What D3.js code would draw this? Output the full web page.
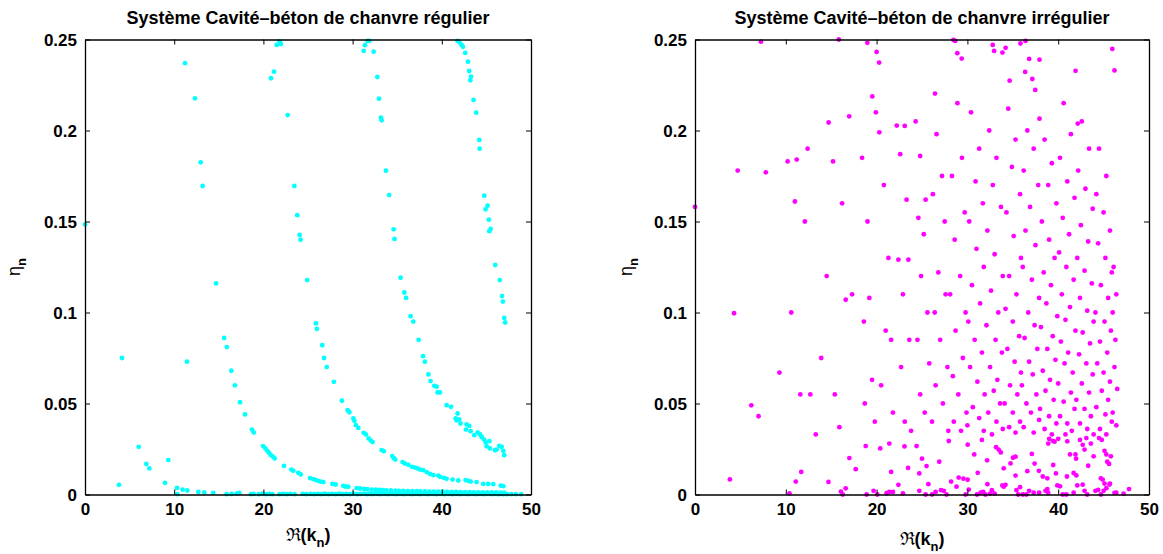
<!DOCTYPE html>
<html><head><meta charset="utf-8">
<script src="https://cdnjs.cloudflare.com/ajax/libs/d3/7.8.5/d3.min.js"></script>
<style>
body{margin:0;background:#fff}
svg text{font-family:"Liberation Sans",Arial,Helvetica,sans-serif;font-weight:bold;fill:#000}
</style></head>
<body><svg id="chart" width="1163" height="554"></svg>
<script>
// ---- tick definitions ----
const xTickValues = [0, 10, 20, 30, 40, 50];
const xTickLabels = ["0", "10", "20", "30", "40", "50"];
const yTickValues = [0, 0.05, 0.1, 0.15, 0.2, 0.25];
const yTickLabels = ["0", "0.05", "0.1", "0.15", "0.2", "0.25"];
const titles = ["Système Cavité\u2013béton de chanvre régulier", "Système Cavité\u2013béton de chanvre irrégulier"];

// ---- regular system (cyan): [Re(k_n), eta_n] ----
const regIsolated = [[0,0.1484],[3.81,0.0053],[4.15,0.075],[6.02,0.0262],[6.87,0.0168],[7.21,0.0143],[8.97,0.0064],[9.34,0.0189],[11.43,0.073]];
const regBranch1 = [[11.21,0.237],[12.33,0.2177],[12.97,0.1825],[13.19,0.1695],[14.7,0.116],[15.6,0.086],[15.9,0.081],[16.4,0.068],[16.8,0.06],[17.38,0.0507],[17.94,0.044],[18.72,0.0357],[18.91,0.0341],[19.96,0.0266],[20.22,0.0253],[20.44,0.024],[20.63,0.0229],[20.8,0.0218],[21.04,0.0209],[21.26,0.0198],[22.31,0.0157],[23.13,0.0137],[23.36,0.013],[23.92,0.0119],[24.19,0.011],[25.22,0.009],[25.6,0.0084],[25.9,0.0079],[26.16,0.0075],[26.42,0.0071],[26.72,0.0068],[27.73,0.0058],[28.1,0.0055],[28.96,0.0047],[29.2,0.0044],[29.52,0.0042],[30.45,0.0035],[30.83,0.0033],[31.28,0.0031],[31.65,0.0029],[32.14,0.0027],[32.6,0.0026],[33.0,0.0025],[33.4,0.0024],[33.8,0.0023],[34.3,0.0022],[34.8,0.0021],[35.2,0.002],[35.7,0.002],[36.2,0.0019],[36.7,0.0018],[37.2,0.0018],[37.6,0.0017],[38.1,0.0017],[38.6,0.0016],[39.1,0.0016],[39.6,0.0015],[40.1,0.0015],[40.6,0.0014],[41.1,0.0014],[41.6,0.0014],[42.1,0.0013],[42.6,0.0013],[43.1,0.0013],[43.6,0.0012],[44.1,0.0012],[44.6,0.0012],[45.1,0.0011],[45.6,0.0011],[46.1,0.0011],[46.6,0.001],[47.0,0.001]];
const regBranch2 = [[20.85,0.2287],[21.19,0.2323],[21.5,0.247],[21.8,0.249],[21.97,0.2475],[22.72,0.2085],[23.47,0.1695],[23.8,0.1535],[24.06,0.1426],[24.17,0.14],[24.9,0.1178],[25.9,0.094],[26.0,0.091],[26.6,0.082],[26.8,0.075],[27.1,0.07],[27.9,0.0619],[28.8,0.0515],[29.45,0.0463],[29.63,0.0452],[30.08,0.0418],[30.2,0.0405],[30.37,0.0381],[30.64,0.0366],[31.24,0.0339],[31.49,0.033],[31.79,0.0308],[32.02,0.0297],[32.24,0.0288],[33.25,0.0244],[33.5,0.0238],[34.44,0.0211],[34.6,0.02],[34.78,0.0192],[35.6,0.0178],[35.87,0.017],[36.25,0.0163],[36.66,0.0152],[37.0,0.0148],[37.29,0.0143],[37.56,0.0137],[37.9,0.0134],[38.3,0.0123],[38.68,0.0113],[39.05,0.0106],[39.6,0.0104],[39.8,0.0097],[40.24,0.0091],[40.54,0.0086],[41.21,0.0082],[41.85,0.0077],[42.67,0.0079],[42.97,0.0075],[43.24,0.0071],[43.9,0.0068],[44.65,0.0058],[45.2,0.0058],[45.77,0.0057],[46.6,0.0049],[46.9,0.0046]];
const regBranch3 = [[31.24,0.2437],[31.39,0.2469],[31.69,0.2492],[31.87,0.2492],[32.36,0.2433],[32.77,0.2294],[32.96,0.2175],[33.18,0.207],[33.26,0.2056],[33.74,0.1779],[34.1,0.1645],[34.6,0.1457],[34.7,0.1404],[35.38,0.1191],[35.8,0.111],[36.0,0.108],[36.5,0.098],[36.8,0.095],[37.4,0.085],[37.9,0.076],[38.1,0.073],[38.5,0.066],[38.74,0.0623],[39.16,0.0597],[39.42,0.0592],[39.53,0.0561],[39.8,0.0561],[40.54,0.0491],[41.03,0.0482],[41.77,0.0445],[41.55,0.0418],[41.95,0.0412],[41.66,0.0408],[42.1,0.039],[42.78,0.0385],[43.08,0.0377],[42.71,0.0357],[43.23,0.0348],[43.64,0.0326],[44.02,0.0341],[44.28,0.033],[44.47,0.0316],[44.73,0.0302],[44.92,0.0286],[45.33,0.0293],[45.03,0.0265],[45.4,0.0253],[45.96,0.0243],[46.15,0.0247],[46.44,0.0267],[46.71,0.0262],[46.9,0.024],[47.0,0.0216]];
const regBranch4 = [[41.77,0.2492],[42.0,0.2483],[42.22,0.247],[42.37,0.246],[42.63,0.2426],[42.93,0.2378],[43.08,0.2327],[43.27,0.2296],[43.2,0.2276],[43.56,0.2168],[43.86,0.2098],[44.2,0.1948],[44.24,0.19],[44.76,0.1642],[45.13,0.1587],[44.9,0.1567],[45.27,0.151],[45.47,0.1459],[45.32,0.1447],[45.99,0.1261],[46.5,0.1178],[46.75,0.109],[46.85,0.106],[47.0,0.097],[47.1,0.0945]];
const regBottom = [[10.31,0.0036],[10.35,0.0002],[10.94,0.0027],[11.47,0.0022],[12.7,0.0014],[13.37,0.0011],[14.38,0.0009],[15.88,0.0002],[16.44,0.0003],[17.0,0.0005],[17.3,0.0009],[18.6,0.0002],[18.9,0.0003],[19.5,0.0002],[19.9,0.0004],[20.3,0.0002],[20.7,0.0003],[21.0,0.0002],[21.8,0.0002],[22.2,0.0003],[22.6,0.0002],[23.0,0.0003],[23.5,0.0002],[24.4,0.0003],[24.8,0.0002],[25.3,0.0003],[25.7,0.0002],[26.1,0.0003],[26.5,0.0002],[26.9,0.0004],[27.3,0.0002],[27.7,0.0003],[28.1,0.0002],[28.5,0.0004],[28.9,0.0002],[29.3,0.0003],[29.7,0.0002],[30.1,0.0004],[30.5,0.0002],[30.9,0.0003],[31.3,0.0005],[31.6,0.0002],[31.9,0.0004],[32.2,0.0002],[32.5,0.0006],[32.8,0.0003],[33.1,0.0002],[33.4,0.0005],[33.7,0.0003],[34.0,0.0002],[34.3,0.0006],[34.6,0.0003],[34.9,0.0002],[35.2,0.0005],[35.5,0.0003],[35.8,0.0002],[36.1,0.0006],[36.4,0.0003],[36.7,0.0002],[37.0,0.0005],[37.3,0.0003],[37.6,0.0002],[37.9,0.0006],[38.2,0.0003],[38.5,0.0002],[38.8,0.0005],[39.1,0.0003],[39.4,0.0002],[39.7,0.0006],[40.0,0.0003],[40.3,0.0002],[40.6,0.0005],[40.9,0.0003],[41.2,0.0002],[41.5,0.0006],[41.8,0.0003],[42.1,0.0002],[42.4,0.0005],[42.7,0.0003],[43.0,0.0002],[43.3,0.0006],[43.6,0.0003],[43.9,0.0002],[44.2,0.0005],[44.5,0.0003],[44.8,0.0002],[45.1,0.0005],[45.4,0.0003],[45.7,0.0002],[46.0,0.0004],[46.3,0.0002],[46.6,0.0003],[46.9,0.0002],[47.3,0.0002],[47.8,0.0002],[48.3,0.0002],[48.9,0.0002]];

// ---- irregular system (magenta): [Re(k_n), eta_n] ----
const irrTop = [[7.26,0.2488],[15.84,0.25],[18.98,0.2482],[20.0,0.2432],[20.28,0.2373],[19.53,0.2187],[19.92,0.21],[14.72,0.2044],[16.98,0.2078],[22.22,0.2027],[23.1,0.2025],[26.43,0.2203],[28.46,0.2498],[28.66,0.2492],[28.89,0.2425],[29.37,0.2395],[32.79,0.247],[32.94,0.2437],[33.86,0.2428],[34.21,0.2454],[34.65,0.2274],[35.84,0.2478],[36.4,0.2492],[36.8,0.2393],[37.94,0.2389],[36.36,0.2322],[37.15,0.2283],[37.47,0.2223],[37.94,0.2065],[41.91,0.2328],[42.15,0.2038],[45.96,0.2448],[46.2,0.233]];
const irrLeft = [[0,0.158],[4.7,0.178],[7.8,0.177],[4.3,0.0996],[6.2,0.049],[7.0,0.043],[9.3,0.067],[10.2,0.183],[11.2,0.184],[10.6,0.1],[11.0,0.161],[11.6,0.055],[12.4,0.19],[12.1,0.15],[13.3,0.033],[13.9,0.075],[12.7,0.055],[15.2,0.183],[14.5,0.12],[15.4,0.055],[15.9,0.037],[16.2,0.16],[17.3,0.11],[16.6,0.107],[17.0,0.02],[18.4,0.185],[19.0,0.15],[18.6,0.095],[19.2,0.108],[19.5,0.063],[18.7,0.05],[19.8,0.04]];
const irrMid = [[20.3,0.199],[20.8,0.17],[21.3,0.13],[21.0,0.09],[21.6,0.085],[20.5,0.06],[21.8,0.045],[22.6,0.187],[23.3,0.162],[22.4,0.129],[23.5,0.129],[22.9,0.11],[23.6,0.085],[22.7,0.07],[23.1,0.04],[23.8,0.035],[24.3,0.205],[24.8,0.186],[25.4,0.162],[24.6,0.152],[25.2,0.143],[24.9,0.12],[25.6,0.1],[24.5,0.085],[25.8,0.072],[24.8,0.055],[25.3,0.045],[26.6,0.198],[27.2,0.175],[26.2,0.165],[27.5,0.15],[26.8,0.122],[27.6,0.11],[26.4,0.1],[27.0,0.085],[27.8,0.07],[26.5,0.06],[27.3,0.05],[26.1,0.04],[27.9,0.035],[28.9,0.215],[29.4,0.185],[28.3,0.175],[29.7,0.155],[28.6,0.14],[29.2,0.12],[28.1,0.11],[29.8,0.1],[28.7,0.09],[29.5,0.075],[28.4,0.065],[29.0,0.055],[29.9,0.045],[28.5,0.04],[29.3,0.035]];
const irrRight = [[30.4,0.21],[31.3,0.19],[30.9,0.172],[31.7,0.16],[30.2,0.15],[31.0,0.135],[31.8,0.125],[30.5,0.115],[31.4,0.105],[30.1,0.095],[30.8,0.085],[31.6,0.078],[30.3,0.07],[31.1,0.062],[31.9,0.055],[30.6,0.048],[31.3,0.042],[30.0,0.038],[31.8,0.035],[32.4,0.2],[33.2,0.185],[32.8,0.17],[33.7,0.158],[32.2,0.145],[33.0,0.132],[33.9,0.12],[32.6,0.112],[33.4,0.1],[32.1,0.093],[33.1,0.085],[33.8,0.078],[32.5,0.07],[33.3,0.063],[32.9,0.057],[33.6,0.05],[32.3,0.045],[33.2,0.04],[33.9,0.036],[32.7,0.033],[34.5,0.212],[35.3,0.195],[34.9,0.18],[35.8,0.165],[34.3,0.155],[35.1,0.142],[35.9,0.13],[34.6,0.12],[35.4,0.11],[34.2,0.102],[35.0,0.095],[35.7,0.087],[34.4,0.08],[35.2,0.073],[35.9,0.067],[34.7,0.06],[35.5,0.055],[34.1,0.05],[35.0,0.045],[35.8,0.04],[34.6,0.037],[35.3,0.034],[36.6,0.2],[37.3,0.19],[36.2,0.178],[37.8,0.17],[36.9,0.158],[36.4,0.145],[37.5,0.137],[36.1,0.125],[37.1,0.118],[37.9,0.108],[36.7,0.1],[37.4,0.093],[36.3,0.086],[37.7,0.08],[36.8,0.073],[37.2,0.066],[36.0,0.06],[37.6,0.055],[36.5,0.05],[37.0,0.045],[37.9,0.041],[36.2,0.037],[37.3,0.034],[38.5,0.195],[39.3,0.182],[38.9,0.17],[39.8,0.16],[38.2,0.15],[39.0,0.14],[39.6,0.13],[38.4,0.122],[39.2,0.115],[38.7,0.105],[39.9,0.098],[38.1,0.092],[39.4,0.087],[38.8,0.08],[39.7,0.074],[38.3,0.068],[39.1,0.063],[38.6,0.057],[39.5,0.052],[38.0,0.047],[39.0,0.043],[39.8,0.039],[38.5,0.036],[39.3,0.033]];
const irrEdge = [[40.6,0.215],[41.4,0.198],[40.2,0.185],[41.0,0.172],[41.8,0.163],[40.5,0.152],[41.2,0.143],[40.1,0.133],[40.9,0.125],[41.7,0.118],[40.4,0.11],[41.3,0.103],[40.8,0.096],[41.9,0.09],[40.3,0.084],[41.1,0.078],[40.7,0.072],[41.6,0.067],[40.0,0.061],[41.4,0.056],[40.6,0.051],[41.8,0.047],[40.2,0.043],[41.0,0.039],[41.5,0.035],[40.8,0.033],[42.6,0.205],[43.4,0.19],[42.2,0.178],[43.0,0.168],[43.8,0.157],[42.5,0.148],[43.3,0.139],[42.1,0.13],[42.9,0.123],[43.7,0.116],[42.4,0.108],[43.2,0.101],[43.9,0.095],[42.7,0.089],[43.5,0.083],[42.3,0.077],[43.1,0.072],[43.8,0.066],[42.6,0.061],[43.4,0.056],[42.0,0.052],[42.9,0.047],[43.6,0.043],[42.4,0.039],[43.2,0.036],[43.9,0.033],[44.5,0.19],[45.3,0.175],[44.2,0.165],[45.0,0.155],[45.7,0.145],[44.4,0.138],[45.2,0.13],[45.9,0.122],[44.7,0.115],[45.5,0.108],[44.1,0.1],[45.1,0.095],[45.8,0.09],[44.6,0.084],[45.4,0.078],[44.3,0.072],[45.0,0.067],[45.7,0.062],[44.8,0.057],[45.5,0.052],[44.2,0.048],[45.2,0.044],[45.9,0.04],[44.6,0.036],[45.3,0.033],[46.1,0.125],[46.4,0.11],[46.0,0.1],[46.3,0.085],[46.2,0.07],[46.5,0.058],[46.0,0.045],[46.4,0.038]];
const irrLow = [[3.84,0.0083],[10.4,0.0006],[11.1,0.0071],[11.7,0.0124],[14.7,0.0069],[16.07,0.0016],[16.27,0],[16.6,0.0034],[17.7,0.0139],[18.8,0.0266],[18.9,0],[19.67,0.002],[20.07,0],[20.4,0.0253],[21.1,0.0007],[21.4,0.0014],[21.8,0.0014],[21.4,0.028],[21.6,0.0124],[22.4,0.0053],[22.9,0.0006],[23.07,0.0264],[23.47,0.0146],[24.4,0.0266],[24.7,0.002],[24.7,0.0116],[25.0,0.0197],[25.4,0],[25.5,0.0156],[25.7,0.0057],[26.1,0],[26.5,0.0014],[26.9,0.018],[27.1,0.0024],[27.4,0.002],[27.7,0],[27.95,0.0294],[28.2,0.0071],[28.8,0.0043],[29.04,0.0093],[29.56,0.0087],[29.8,0],[30.03,0.0274],[30.03,0.0081],[30.15,0.0027],[30.75,0.022],[31.06,0],[31.46,0.001],[31.74,0.0014],[31.98,0],[31.14,0.0119],[31.6,0.03],[32.17,0.0188],[32.2,0.0057],[32.5,0.0005],[32.7,0.0024],[33.0,0.0005],[33.16,0.026],[33.44,0.0247],[33.68,0.0231],[34.0,0.0144],[33.85,0.005],[34.0,0.0043],[34.2,0.0053],[34.75,0.0171],[35.02,0.0202],[35.3,0.0208],[35.3,0.0104],[35.4,0.0024],[35.6,0],[35.8,0.004],[36.1,0],[36.5,0],[36.8,0.002],[36.6,0.0128],[37.1,0.0223],[37.4,0.017],[37.3,0.001],[37.9,0.001],[37.87,0.013],[38.3,0.0099],[38.6,0.002],[38.8,0.003],[38.9,0.001],[38.8,0.0089],[38.9,0.028],[39.0,0.0306],[39.4,0.0295],[39.6,0.029],[40.0,0.0306],[39.45,0.0162],[39.75,0.0116],[39.9,0.005],[40.2,0.0045],[40.5,0],[40.9,0],[41.7,0.001],[40.96,0.0099],[41.0,0.0292],[41.3,0.022],[41.9,0.022],[41.97,0.0197],[41.7,0.0118],[42.0,0.0105],[42.1,0.005],[42.4,0.03],[42.7,0.0273],[42.9,0.0247],[43.1,0.031],[42.7,0.0054],[42.9,0.002],[43.2,0],[43.3,0.0158],[43.6,0.028],[43.9,0.021],[44.1,0.002],[44.4,0.0025],[44.7,0],[45.0,0.002],[44.7,0.0089],[44.5,0.031],[44.8,0.03],[45.1,0.024],[45.3,0.022],[45.4,0.018],[45.6,0.0168],[45.65,0.0055],[45.8,0.021],[44.9,0.0082],[45.1,0.006],[45.3,0.0035],[45.7,0.006],[46.2,0.0009],[46.4,0.001],[47.2,0.0004],[47.8,0.003]];

const panels = [
  {x0: 85, x1: 531, title: titles[0], color: "#00ffff", sets: [regIsolated, regBranch1, regBranch2, regBranch3, regBranch4, regBottom], xlabY: 541, ylabX: 20},
  {x0: 695, x1: 1149, title: titles[1], color: "#ff00ff", sets: [irrTop, irrLeft, irrMid, irrRight, irrEdge, irrLow], xlabY: 545, ylabX: 632}
];
const yTop = 39.5, yBot = 494.5;
const svg = d3.select("#chart");

panels.forEach(p => {
  const x = d3.scaleLinear().domain([0, 50]).range([p.x0, p.x1]);
  const y = d3.scaleLinear().domain([0, 0.25]).range([yBot, yTop]);
  const g = svg.append("g");
  const pts = p.sets.flat();
  g.append("g").selectAll("circle").data(pts).join("circle")
    .attr("cx", d => x(d[0])).attr("cy", d => y(d[1])).attr("r", 2.4)
    .attr("fill", p.color);
  const fmtX = (d, i) => xTickLabels[i];
  const fmtY = (d, i) => yTickLabels[i];
  const bottom = g.append("g").attr("transform", `translate(0,${yBot})`)
    .call(d3.axisBottom(x).tickValues(xTickValues).tickFormat(fmtX).tickSizeInner(-5).tickSizeOuter(0).tickPadding(8));
  const top = g.append("g").attr("transform", `translate(0,${yTop})`)
    .call(d3.axisTop(x).tickValues(xTickValues).tickFormat("").tickSizeInner(-5).tickSizeOuter(0));
  const left = g.append("g").attr("transform", `translate(${p.x0},0)`)
    .call(d3.axisLeft(y).tickValues(yTickValues).tickFormat(fmtY).tickSizeInner(-5).tickSizeOuter(0).tickPadding(8));
  const right = g.append("g").attr("transform", `translate(${p.x1},0)`)
    .call(d3.axisRight(y).tickValues(yTickValues).tickFormat("").tickSizeInner(-5).tickSizeOuter(0));
  [bottom, top, left, right].forEach(a => {
    a.selectAll("path.domain").attr("stroke", "#000").attr("stroke-width", 1.3);
    a.selectAll(".tick line").attr("stroke", "#000").attr("stroke-width", 1);
    a.selectAll(".tick text").attr("font-size", 17).attr("font-weight", "bold")
      .attr("font-family", "'Liberation Sans', Arial, sans-serif").attr("fill", "#000");
  });
  bottom.selectAll(".tick text").attr("dy", "0.72em");
  left.selectAll(".tick text").attr("dy", "0.35em");
  g.append("text").attr("x", (p.x0 + p.x1) / 2).attr("y", 24).attr("text-anchor", "middle")
    .attr("font-size", 18).text(p.title);
  const xl = g.append("text").attr("x", (p.x0 + p.x1) / 2).attr("y", p.xlabY).attr("text-anchor", "middle").attr("font-size", 18);
  xl.append("tspan").attr("font-weight", "normal").attr("font-family", "'DejaVu Serif', serif").text("\u211C");
  xl.append("tspan").text("(k");
  xl.append("tspan").attr("font-size", 13).attr("dy", 6).text("n");
  xl.append("tspan").attr("dy", -6).text(")");
  const yl = g.append("text").attr("transform", `translate(${p.ylabX},${(yTop + yBot) / 2}) rotate(-90)`)
    .attr("text-anchor", "middle").attr("font-size", 18);
  yl.append("tspan").attr("font-weight", "normal").text("\u03B7");
  yl.append("tspan").attr("font-size", 13).attr("dy", 6).text("n");
});
</script></body></html>
